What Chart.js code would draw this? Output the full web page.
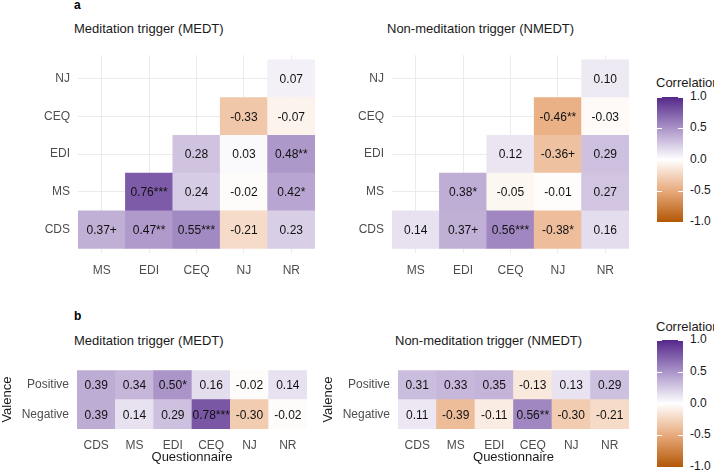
<!DOCTYPE html>
<html><head><meta charset="utf-8">
<script src="https://cdn.jsdelivr.net/npm/chart.js@4"></script>
<style>
body{margin:0;width:714px;height:472px;background:#fff;position:relative;font-family:"Liberation Sans",Arial,sans-serif;overflow:hidden}
.c{position:absolute}
.t{position:absolute;font-size:13px;color:#1a1a1a;white-space:nowrap}
.b{position:absolute;font-size:12px;font-weight:bold}
.bar{position:absolute;width:26px;background:linear-gradient(to bottom,#54278a,#aa94c8 25%,#ffffff 50%,#e8aa7d 75%,#b35806)}
.lt{position:absolute;font-size:12px;color:#1a1a1a}
.tk{position:absolute;width:5px;height:1px;background:#fff}
</style></head><body>
<div class="b" style="left:74px;top:-2px">a</div>
<div class="b" style="left:74px;top:309px">b</div>
<div class="t" style="left:74px;top:21px">Meditation trigger (MEDT)</div>
<div class="t" style="left:387px;top:21px">Non-meditation trigger (NMEDT)</div>
<div class="t" style="left:74px;top:333px">Meditation trigger (MEDT)</div>
<div class="t" style="left:395px;top:333px">Non-meditation trigger (NMEDT)</div>
<canvas id="tl" class="c" style="left:0;top:40px"></canvas>
<canvas id="tr" class="c" style="left:314px;top:40px"></canvas>
<canvas id="bl" class="c" style="left:0;top:355px"></canvas>
<canvas id="br" class="c" style="left:321px;top:355px"></canvas>
<div id="leg"></div>
<script>
// ---- data ----
const triRows = ["CDS","MS","EDI","CEQ","NJ"];
const triCols = ["MS","EDI","CEQ","NJ","NR"];
const medtTri = [
  [0.37,0.47,0.55,-0.21,0.23],
  [null,0.76,0.24,-0.02,0.42],
  [null,null,0.28,0.03,0.48],
  [null,null,null,-0.33,-0.07],
  [null,null,null,null,0.07]];
const medtTriSig = [
  ["+","**","***","",""],
  ["","***","","","*"],
  ["","","","","**"],
  ["","","","",""],
  ["","","","",""]];
const nmedtTri = [
  [0.14,0.37,0.56,-0.38,0.16],
  [null,0.38,-0.05,-0.01,0.27],
  [null,null,0.12,-0.36,0.29],
  [null,null,null,-0.46,-0.03],
  [null,null,null,null,0.10]];
const nmedtTriSig = [
  ["","+","***","*",""],
  ["","*","","",""],
  ["","","","+",""],
  ["","","","**",""],
  ["","","","",""]];
const valRows = ["Negative","Positive"];
const valCols = ["CDS","MS","EDI","CEQ","NJ","NR"];
const medtVal = [
  [0.39,0.14,0.29,0.78,-0.30,-0.02],
  [0.39,0.34,0.50,0.16,-0.02,0.14]];
const medtValSig = [["","","","***","",""],["","","*","","",""]];
const nmedtVal = [
  [0.11,-0.39,-0.11,0.56,-0.30,-0.21],
  [0.31,0.33,0.35,-0.13,0.13,0.29]];
const nmedtValSig = [["","","","**","",""],["","","","","",""]];
const legendTicks = ["1.0","0.5","0.0","-0.5","-1.0"];

// ---- colour ----
const stops=[[-1,[179,88,6]],[-0.5,[232,170,125]],[0,[255,255,255]],[0.5,[170,148,200]],[1,[84,39,138]]];
function col(v){for(let i=0;i<stops.length-1;i++){const [a,ca]=stops[i],[b,cb]=stops[i+1];if(v<=b){const t=(v-a)/(b-a);return `rgb(${ca.map((x,k)=>Math.round(x+(cb[k]-x)*t)).join(",")})`;}}return "rgb(84,39,138)";}

const F="'Liberation Sans', Arial";
const textPlugin={id:"txt",afterDatasetsDraw(ch){const ctx=ch.ctx;ctx.save();ctx.font="12px "+F;ctx.fillStyle="#111";ctx.textAlign="center";ctx.textBaseline="middle";
 ch.data.datasets.forEach((ds,di)=>{ch.getDatasetMeta(di).data.forEach((el,j)=>{if(ds.vals[j]==null)return;ctx.fillText(ds.vals[j].toFixed(2)+ds.sigs[j],el.x,(el.y+el.base)/2+1);});});ctx.restore();}};

function heat(id,w,h,rows,cols,vals,sigs,o){
 const cv=document.getElementById(id);cv.width=w;cv.height=h;cv.style.width=w+"px";cv.style.height=h+"px";
 const datasets=rows.map((r,i)=>({vals:vals[i],sigs:sigs[i],data:cols.map((c,j)=>vals[i][j]==null?null:[i-0.5,i+0.5]),backgroundColor:cols.map((c,j)=>vals[i][j]==null?"transparent":col(vals[i][j])),borderWidth:0,barPercentage:1,categoryPercentage:1,grouped:false}));
 new Chart(cv,{type:"bar",data:{labels:cols,datasets},plugins:[textPlugin],
 options:{responsive:false,animation:false,devicePixelRatio:1,layout:{padding:{left:0,right:o.pr,top:o.pt,bottom:o.pb||0}},
  plugins:{legend:{display:false},tooltip:{enabled:false}},
  scales:{
   x:{grid:{color:"#ebebeb",offset:false,drawTicks:false},border:{display:false},ticks:{padding:o.xpad,color:"#4d4d4d",font:{size:12,family:F}},
      title:{display:!!o.xt,text:o.xt||"",padding:0,color:"#1a1a1a",font:{size:13,family:F}},afterFit:s=>{s.height=o.xh}},
   y:{min:-0.5-o.ext,max:rows.length-0.5+o.ext,grid:{color:"#ebebeb",drawTicks:false},border:{display:false},
      afterBuildTicks:s=>{s.ticks=rows.map((r,i)=>({value:i}));},
      ticks:{padding:8,color:"#4d4d4d",font:{size:12,family:F},callback:v=>rows[v]},
      title:{display:!!o.yt,text:o.yt||"",padding:0,color:"#1a1a1a",font:{size:13,family:F}},afterFit:s=>{s.width=o.yw}}}}});
}
heat("tl",330,245,triRows,triCols,medtTri,medtTriSig,{pr:15,pt:7,xh:32,xpad:10,yw:78,ext:0.12});
heat("tr",330,245,triRows,triCols,nmedtTri,nmedtTriSig,{pr:15,pt:7,xh:32,xpad:10,yw:78,ext:0.12});
heat("bl",330,117,valRows,valCols,medtVal,medtValSig,{pr:23,pt:5,pb:7,xh:36,xpad:9,yw:77,ext:0,xt:"Questionnaire",yt:"Valence"});
heat("br",330,117,valRows,valCols,nmedtVal,nmedtValSig,{pr:22,pt:5,pb:7,xh:36,xpad:9,yw:77,ext:0,xt:"Questionnaire",yt:"Valence"});

// legends
const leg=document.getElementById("leg");
[[97,222,75],[340,467,319]].forEach(([t,b,tt])=>{
 let s=`<div class="t" style="left:656px;top:${tt}px">Correlation</div><div class="bar" style="left:657px;top:${t}px;height:${b-t}px"></div>`;
 legendTicks.forEach((l,i)=>{const y=t+(b-t)*i/4;s+=`<div class="tk" style="left:657px;top:${y}px"></div><div class="tk" style="left:678px;top:${y}px"></div><div class="lt" style="left:690px;top:${y-8}px">${l}</div>`;});
 leg.innerHTML+=s;});
</script>
</body></html>
